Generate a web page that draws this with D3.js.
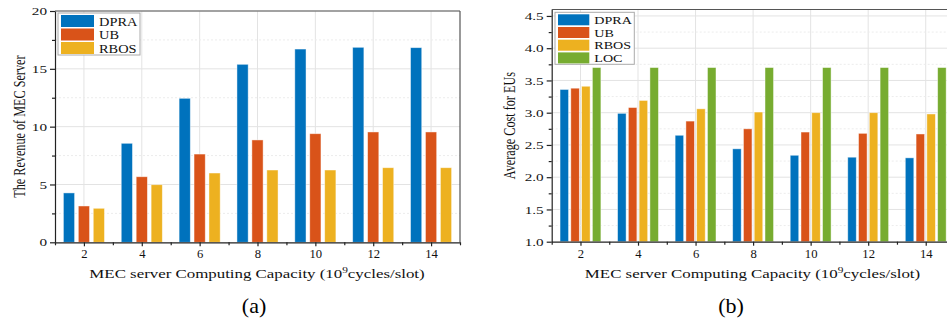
<!DOCTYPE html>
<html>
<head>
<meta charset="utf-8">
<script src="https://cdn.jsdelivr.net/npm/d3@7"></script>
<style>
  body { margin: 0; background: #fff; }
  svg { display: block; font-family: "Liberation Serif", "Times New Roman", serif; }
</style>
</head>
<body>
<div id="chart"></div>
<script>
// capacities on the x axis (10^9 cycles/slot)
const capacities = [2, 4, 6, 8, 10, 12, 14];
const minorCapacities = [1, 3, 5, 7, 9, 11, 13, 15];

// (a) revenue of the MEC server
const revenueDPRA = [4.27, 8.56, 12.45, 15.39, 16.71, 16.86, 16.83];
const revenueUB = [3.14, 5.67, 7.63, 8.85, 9.39, 9.54, 9.54];
const revenueRBOS = [2.94, 4.98, 5.99, 6.25, 6.25, 6.45, 6.45];
const revenueTicks = [0, 5, 10, 15, 20];
const revenueMinor = [2.5, 7.5, 12.5, 17.5];

// (b) average cost for EUs
const costDPRA = [3.36, 2.99, 2.65, 2.44, 2.34, 2.31, 2.30];
const costUB = [3.38, 3.08, 2.87, 2.75, 2.70, 2.68, 2.67];
const costRBOS = [3.41, 3.19, 3.06, 3.01, 3.00, 3.00, 2.98];
const costLOC = [3.70, 3.70, 3.70, 3.70, 3.70, 3.70, 3.70];
const costTicks = [1.0, 1.5, 2.0, 2.5, 3.0, 3.5, 4.0, 4.5];
const costMinor = [1.25, 1.75, 2.25, 2.75, 3.25, 3.75, 4.25];

const colors = { DPRA: '#0072BD', UB: '#D95319', RBOS: '#EDB120', LOC: '#77AC30' };

const W = 947, H = 322;
const SX = 1.34; // the picture's text is stretched sideways

const svg = d3.select('#chart').append('svg')
  .attr('width', W).attr('height', H);

function stretchText(sel, sx) {
  sel.attr('transform', `scale(${sx},1)`);
}

function drawPanel(cfg) {
  const g = svg.append('g');
  const x = d3.scaleLinear().domain([1, 15]).range([cfg.left, cfg.right]);
  const y = d3.scaleLinear().domain(cfg.yDomain).range([cfg.bottom, cfg.top]);
  const unit = x(1) - x(0);

  // grid
  g.append('g').selectAll('line').data(capacities).enter().append('line')
    .attr('x1', d => x(d)).attr('x2', d => x(d))
    .attr('y1', cfg.top).attr('y2', cfg.bottom)
    .attr('stroke', '#e3e3e3').attr('stroke-width', 1);
  g.append('g').selectAll('line').data(cfg.yTicks.slice(1)).enter().append('line')
    .attr('x1', cfg.left).attr('x2', cfg.right)
    .attr('y1', d => y(d)).attr('y2', d => y(d))
    .attr('stroke', '#e3e3e3').attr('stroke-width', 1);
  g.append('g').selectAll('line').data(cfg.yMinor).enter().append('line')
    .attr('x1', cfg.left).attr('x2', cfg.right)
    .attr('y1', d => y(d)).attr('y2', d => y(d))
    .attr('stroke', '#ececec').attr('stroke-width', 1)
    .attr('stroke-dasharray', '2,2');

  // bars
  const names = cfg.series.map(s => s.name);
  const inner = d3.scaleBand().domain(names)
    .range([-0.71 * unit, 0.71 * unit]).paddingInner(cfg.pad);
  cfg.series.forEach(s => {
    g.append('g').selectAll('rect').data(s.values).enter().append('rect')
      .attr('x', (d, i) => x(capacities[i]) + inner(s.name))
      .attr('width', inner.bandwidth())
      .attr('y', d => y(d))
      .attr('height', d => y(cfg.yDomain[0]) - y(d))
      .attr('fill', colors[s.name])
      .attr('stroke', 'rgba(255,255,255,0.55)').attr('stroke-width', 0.8);
  });

  // frame (top and right)
  g.append('line').attr('x1', cfg.left).attr('x2', cfg.right)
    .attr('y1', cfg.top).attr('y2', cfg.top)
    .attr('stroke', '#555').attr('stroke-width', 1.2);
  g.append('line').attr('x1', cfg.right).attr('x2', cfg.right)
    .attr('y1', cfg.top).attr('y2', cfg.bottom)
    .attr('stroke', '#555').attr('stroke-width', 1.2);

  // axes
  const xAxis = g.append('g').attr('transform', `translate(0,${cfg.bottom})`)
    .call(d3.axisBottom(x).tickValues(capacities).tickSize(4).tickSizeOuter(0).tickPadding(4));
  g.append('g').attr('transform', `translate(0,${cfg.bottom})`)
    .call(d3.axisBottom(x).tickValues(minorCapacities).tickSize(3).tickFormat(''))
    .select('.domain').remove();
  const yAxis = g.append('g').attr('transform', `translate(${cfg.left},0)`)
    .call(d3.axisLeft(y).tickValues(cfg.yTicks).tickSize(5).tickSizeOuter(0)
      .tickFormat(cfg.yFormat));
  g.append('g').attr('transform', `translate(${cfg.left},0)`)
    .call(d3.axisLeft(y).tickValues(cfg.yMinor).tickSize(3).tickFormat(''))
    .select('.domain').remove();

  g.selectAll('.domain, .tick line').attr('stroke', '#222').attr('stroke-width', 1.2);

  xAxis.selectAll('text')
    .attr('font-family', 'Liberation Serif').attr('font-size', 11.5).attr('fill', '#111')
    .call(stretchText, 1.1);
  yAxis.selectAll('text')
    .attr('font-family', 'Liberation Serif').attr('font-size', 10.5).attr('fill', '#111')
    .attr('x', -8 / 1.45).attr('dy', '0.35em')
    .call(stretchText, 1.45);

  // legend
  const lg = g.append('g');
  lg.append('rect')
    .attr('x', cfg.legend.x).attr('y', cfg.legend.y)
    .attr('width', cfg.legend.w).attr('height', cfg.legend.h)
    .attr('fill', '#fff').attr('stroke', '#aaa').attr('stroke-width', 1);
  cfg.series.forEach((s, i) => {
    const ry = cfg.legend.y + 2 + i * cfg.legend.step;
    lg.append('rect')
      .attr('x', cfg.legend.x + 3).attr('y', ry)
      .attr('width', cfg.legend.sw).attr('height', cfg.legend.sh)
      .attr('fill', colors[s.name]);
    lg.append('text')
      .attr('transform', `translate(${cfg.legend.x + cfg.legend.sw + 8},${ry + cfg.legend.sh - 1.5}) scale(${cfg.legend.sx},1)`)
      .attr('font-size', cfg.legend.fs).attr('fill', '#111')
      .text(s.name);
  });

  // y title
  g.append('text')
    .attr('transform', `translate(${cfg.yTitle.x},${(cfg.top + cfg.bottom) / 2}) scale(1.35,1) rotate(-90)`)
    .attr('text-anchor', 'middle').attr('font-size', 12.2).attr('fill', '#111')
    .text(cfg.yTitle.text);

  // x title
  const xt = g.append('text')
    .attr('transform', `translate(${cfg.xTitle.x},278) scale(${SX},1)`)
    .attr('text-anchor', 'middle').attr('font-size', 12.6).attr('fill', '#111');
  xt.append('tspan').text('MEC server Computing Capacity (10');
  xt.append('tspan').attr('font-size', 8.5).attr('dy', -5).text('9');
  xt.append('tspan').attr('dy', 5).text('cycles/slot)');

  // caption
  g.append('text')
    .attr('transform', `translate(${cfg.caption.x},313) scale(1.1,1)`)
    .attr('text-anchor', 'middle').attr('font-size', 20).attr('fill', '#000')
    .text(cfg.caption.text);
}

drawPanel({
  left: 55, right: 460, top: 11, bottom: 242.3,
  yDomain: [0, 20], yTicks: revenueTicks, yMinor: revenueMinor,
  yFormat: d3.format('d'),
  pad: 0.25,
  series: [
    { name: 'DPRA', values: revenueDPRA },
    { name: 'UB', values: revenueUB },
    { name: 'RBOS', values: revenueRBOS }
  ],
  legend: { x: 58, y: 13, w: 82, h: 42, step: 13.5, sw: 33, sh: 12, fs: 12.3, sx: 1.17 },
  yTitle: { x: 25, text: 'The Revenue of MEC Server' },
  xTitle: { x: 257 },
  caption: { x: 254, text: '(a)' }
});

drawPanel({
  left: 551.7, right: 954.5, top: 9.5, bottom: 241.7,
  yDomain: [1, 4.6], yTicks: costTicks, yMinor: costMinor,
  yFormat: d3.format('.1f'),
  pad: 0.21,
  series: [
    { name: 'DPRA', values: costDPRA },
    { name: 'UB', values: costUB },
    { name: 'RBOS', values: costRBOS },
    { name: 'LOC', values: costLOC }
  ],
  legend: { x: 555, y: 12.3, w: 79.3, h: 52, step: 12.7, sw: 31.3, sh: 11, fs: 11, sx: 1.28 },
  yTitle: { x: 515, text: 'Average Cost for EUs' },
  xTitle: { x: 752.5 },
  caption: { x: 731, text: '(b)' }
});
</script>
</body>
</html>
